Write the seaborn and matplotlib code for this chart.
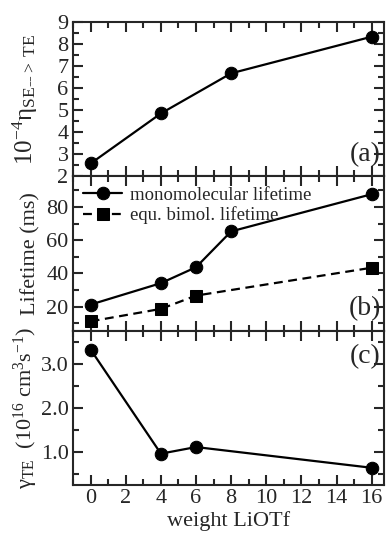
import matplotlib
matplotlib.use("Agg")
import matplotlib.pyplot as plt
from matplotlib.ticker import MultipleLocator
import seaborn as sns
import pandas as pd

# data
weight_a = [0, 4, 8, 16]
eta = [2.58, 4.85, 6.67, 8.33]

weight_mono = [0, 4, 6, 8, 16]
mono_lifetime = [21.2, 34.1, 43.7, 65.3, 87.7]
weight_bimol = [0, 4, 6, 16]
bimol_lifetime = [11.1, 18.6, 26.6, 43.4]

weight_c = [0, 4, 6, 16]
gamma_te = [3.32, 0.96, 1.11, 0.64]

xticks = [0, 2, 4, 6, 8, 10, 12, 14, 16]

sns.set_style("ticks")
plt.rcParams['font.family'] = ['Liberation Serif', 'DejaVu Serif']
plt.rcParams['mathtext.fontset'] = 'custom'
plt.rcParams['mathtext.rm'] = 'Liberation Serif'
plt.rcParams['mathtext.it'] = 'Liberation Serif:italic'
plt.rcParams['axes.linewidth'] = 1.5

fig, axes = plt.subplots(3, 1, figsize=(3.91, 5.35), dpi=100, sharex=True)
fig.subplots_adjust(left=0.186, right=0.982, top=0.959, bottom=0.0935, hspace=0)

line_kw = dict(color='black', linewidth=1.6, markersize=9, markeredgecolor='black')

# (a)
ax = axes[0]
df_a = pd.DataFrame({'w': weight_a, 'eta': eta})
sns.lineplot(data=df_a, x='w', y='eta', ax=ax, marker='o', **line_kw)
ax.set_ylim(2, 9)
ax.yaxis.set_major_locator(MultipleLocator(1))
ax.yaxis.set_minor_locator(MultipleLocator(0.5))
ax.set_ylabel('10$^{-4}$η$_{\\mathregular{SE\u2010\u2010>\\ TE}}$', fontsize=18)
ax.text(0.99, 0.06, '(a)', transform=ax.transAxes, ha='right', va='bottom', fontsize=20)

# (b)
ax = axes[1]
df_mono = pd.DataFrame({'w': weight_mono, 'life': mono_lifetime})
df_bimol = pd.DataFrame({'w': weight_bimol, 'life': bimol_lifetime})
sns.lineplot(data=df_mono, x='w', y='life', ax=ax, marker='o',
             label='monomolecular lifetime', **line_kw)
sns.lineplot(data=df_bimol, x='w', y='life', ax=ax, marker='s',
             linestyle=(0, (4, 2.5)), label='equ. bimol. lifetime', **line_kw)
ax.set_ylim(5.5, 98.5)
ax.yaxis.set_major_locator(MultipleLocator(20))
ax.yaxis.set_minor_locator(MultipleLocator(10))
ax.set_ylabel('Lifetime (ms)', fontsize=16)
ax.legend(loc='upper left', frameon=False, fontsize=13.5, handlelength=2.1,
          borderaxespad=0.35, labelspacing=0.15, handletextpad=0.4,
          borderpad=0.2)
ax.text(0.99, 0.06, '(b)', transform=ax.transAxes, ha='right', va='bottom', fontsize=20)

# (c)
ax = axes[2]
df_c = pd.DataFrame({'w': weight_c, 'gamma': gamma_te})
sns.lineplot(data=df_c, x='w', y='gamma', ax=ax, marker='o', **line_kw)
ax.set_ylim(0.25, 3.75)
ax.yaxis.set_major_locator(MultipleLocator(1))
ax.yaxis.set_minor_locator(MultipleLocator(0.5))
ax.set_yticks([1.0, 2.0, 3.0])
ax.set_yticklabels(['1.0', '2.0', '3.0'])
ax.set_ylabel(r'γ$_{\mathregular{TE}}$  (10$^{16}$ cm$^3$s$^{-1}$)', fontsize=16)
ax.text(0.99, 0.91, '(c)', transform=ax.transAxes, ha='right', va='top', fontsize=20)
ax.set_xlabel('weight LiOTf', fontsize=16, labelpad=2)

for ax in axes:
    ax.set_xlim(-1.02, 16.7)
    ax.set_xticks(xticks)
    ax.xaxis.set_minor_locator(MultipleLocator(1))
    ax.tick_params(which='both', direction='in', top=True, right=True,
                   width=1.5, labelsize=16, pad=3)
    ax.tick_params(which='major', length=7)
    ax.tick_params(which='minor', length=4)
    ax.yaxis.set_label_coords(-0.105, 0.5)
    if ax is not axes[2]:
        ax.set_xlabel('')

plt.savefig('out.png', dpi=100)
plt.close()
